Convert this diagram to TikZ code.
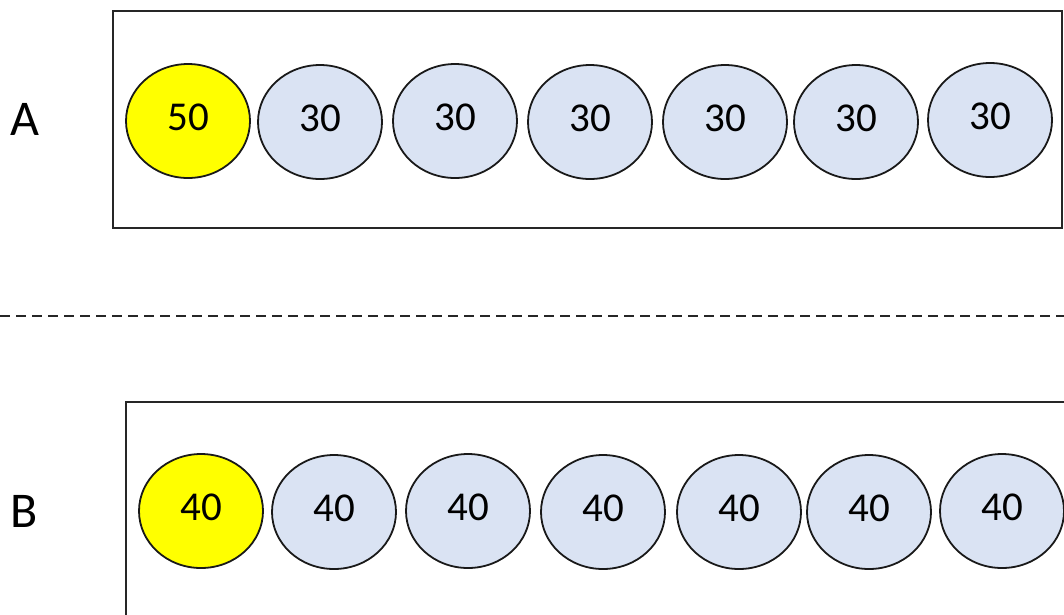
\documentclass[tikz,border=0pt]{standalone}
\usepackage{fontspec}
\setmainfont{Carlito}
\usetikzlibrary{shapes.geometric}
\definecolor{lightblue}{HTML}{DAE3F3}
\definecolor{yel}{HTML}{FFFF00}
\begin{document}
\begin{tikzpicture}[x=1pt,y=-1pt,
  ball/.style={ellipse, draw=black!90, line width=1.8pt, minimum width=124pt, minimum height=114pt, inner sep=0pt, text depth=8pt, font=\fontsize{41}{41}\selectfont},
  blueball/.style={ball, fill=lightblue},
  yelball/.style={ball, fill=yel},
  frame/.style={draw=black!85, line width=2pt},
  rowlabel/.style={font=\fontsize{50}{50}\selectfont, inner sep=0pt}]
\useasboundingbox (0,0) rectangle (1064,614);
% frames
\draw[frame] (113,11) rectangle (1062,228);
\draw[frame] (1070,402) -- (126,402) -- (126,620);
% dashed separator
\coordinate (dl) at (0,316);
\coordinate (dr) at (1064,316);
\draw[black!85, line width=1.5pt, dash pattern=on 10pt off 6pt] (dl) -- (dr);
% labels
\node[rowlabel] (lA) at (25,119) {A};
\node[rowlabel] (lB) at (24,511) {B};
% row A
\node[yelball]  (a1) at (188,121) {50};
\node[blueball] (a2) at (320,122) {30};
\node[blueball] (a3) at (455,121) {30};
\node[blueball] (a4) at (590,122) {30};
\node[blueball] (a5) at (725,122) {30};
\node[blueball] (a6) at (856,122) {30};
\node[blueball] (a7) at (990,120) {30};
% row B
\node[yelball]  (b1) at (201,511) {40};
\node[blueball] (b2) at (334,512) {40};
\node[blueball] (b3) at (468,511) {40};
\node[blueball] (b4) at (603,512) {40};
\node[blueball] (b5) at (739,512) {40};
\node[blueball] (b6) at (869,512) {40};
\node[blueball] (b7) at (1002,511) {40};
\end{tikzpicture}
\end{document}
